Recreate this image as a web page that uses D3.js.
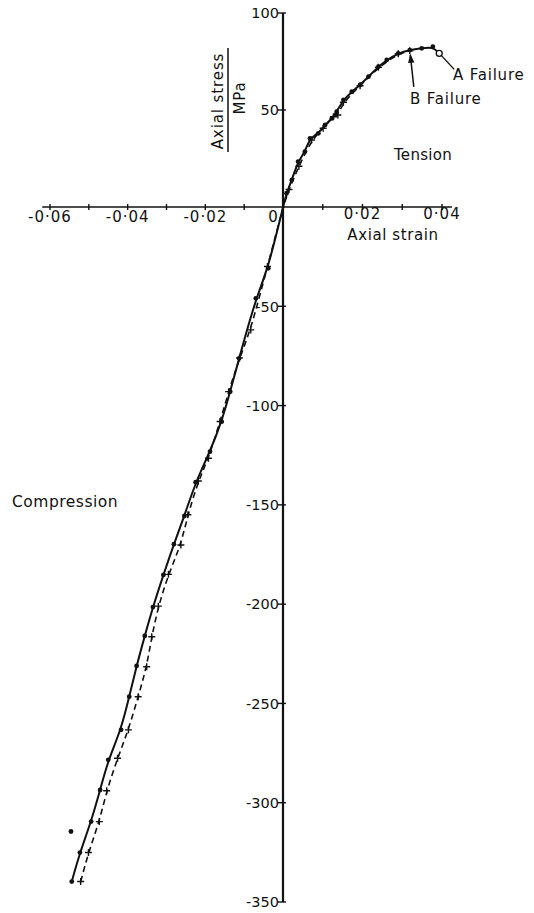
<!DOCTYPE html>
<html>
<head>
<meta charset="utf-8">
<script src="https://cdn.jsdelivr.net/npm/d3@7"></script>
<style>
  body { margin:0; background:#fff; }
  svg text { font-family:"DejaVu Sans", sans-serif; fill:#111; }
</style>
</head>
<body>
<div id="chart"></div>
<script>
// strain, stress (MPa)
var tensionA = [[0,0],[0.0009,7.1],[0.0022,13.9],[0.0038,23.4],[0.0055,28.5],[0.0068,35.4],[0.0089,38],
  [0.0106,42.3],[0.0123,45.7],[0.0135,49.1],[0.0152,55.2],[0.0173,59.4],[0.0194,62.9],[0.0215,67.2],
  [0.024,72.3],[0.0261,75.8],[0.029,79.2],[0.0319,80.9],[0.0349,81.8],[0.0377,82.6]];
var failureA = [0.0393,79.2];
var tensionB = [[0,0],[0.0015,9],[0.004,21],[0.0072,34.5],[0.0101,40.6],[0.0127,46.5],[0.0138,47.4],
  [0.0152,54],[0.0194,62.5],[0.024,72],[0.029,79],[0.0319,80.5]];
var failureB = [0.0319,80.5];

var compressionA = [[-0.0038,-30.9],[-0.007,-46],[-0.0113,-76.2],[-0.0136,-93],[-0.0158,-108.1],
  [-0.0188,-123.2],[-0.0225,-138.6],[-0.0254,-155.6],[-0.0281,-169.8],[-0.0308,-185.3],[-0.0335,-201.5],
  [-0.0356,-216],[-0.0377,-231.1],[-0.0396,-246.6],[-0.0417,-263.3],[-0.045,-278.4],[-0.0471,-293.6],
  [-0.0494,-309.5],[-0.0523,-325.1],[-0.0544,-339.7]];
var compressionStray = [[-0.0546,-314.5]];
var compressionB = [[-0.004,-30],[-0.0083,-61.9],[-0.0112,-76],[-0.014,-93],[-0.0162,-108],
  [-0.0192,-126.5],[-0.0218,-138],[-0.0245,-155],[-0.0263,-170.2],[-0.0295,-185],[-0.0321,-201],
  [-0.0338,-216.4],[-0.0351,-231.5],[-0.0373,-246.6],[-0.0398,-263.3],[-0.0426,-277.6],[-0.0454,-294],
  [-0.0473,-309.5],[-0.0501,-325.1],[-0.0521,-339.7]];

var xTicks = [-0.06,-0.05,-0.04,-0.03,-0.02,-0.01,0,0.01,0.02,0.03,0.04];
var xTickLabels = {"-0.06":"-0·06","-0.04":"-0·04","-0.02":"-0·02","0.02":"0·02","0.04":"0·04"};
var yTicks = [100,50,0,-50,-100,-150,-200,-250,-300,-350];

var W = 534, H = 913;
var svg = d3.select("#chart").append("svg").attr("width",W).attr("height",H);

// the printed figure is slightly stretched differently on each side of the origin
var x = d3.scaleLinear().domain([-0.06,0,0.04]).range([50,283,442]);
var y = d3.scaleLinear().domain([-350,0,100]).range([902,207,13]);

// axes
svg.append("line").attr("x1",x(-0.062)).attr("x2",x(0.0425)).attr("y1",y(0)).attr("y2",y(0))
  .style("stroke","#111").style("stroke-width","1.6px");
svg.append("line").attr("x1",x(0)).attr("x2",x(0)).attr("y1",y(100)).attr("y2",y(-350))
  .style("stroke","#111").style("stroke-width","2.2px");

svg.selectAll(".xt").data(xTicks).enter().append("line")
  .attr("x1",function(d){ return x(d); }).attr("x2",function(d){ return x(d); })
  .attr("y1",y(0)-3).attr("y2",y(0)+3)
  .style("stroke","#111").style("stroke-width","1.4px");

svg.selectAll(".xl").data(xTicks.filter(function(d){ return xTickLabels[String(d)]; })).enter().append("text")
  .attr("x",function(d){ return x(d); }).attr("y",function(d){ return d>0 ? 219 : 222; })
  .attr("text-anchor","middle").style("font-size","15px").style("letter-spacing","1px")
  .text(function(d){ return xTickLabels[String(d)]; });
svg.append("text").attr("x",x(0)-10).attr("y",222).attr("text-anchor","middle")
  .style("font-size","15px").text("0");

svg.selectAll(".yt").data(yTicks.filter(function(d){ return d!==0; })).enter().append("line")
  .attr("x1",x(0)-5).attr("x2",x(0)+3)
  .attr("y1",function(d){ return y(d); }).attr("y2",function(d){ return y(d); })
  .style("stroke","#111").style("stroke-width","1.4px");

svg.selectAll(".yl").data(yTicks.filter(function(d){ return d!==0; })).enter().append("text")
  .attr("x",x(0)-4).attr("y",function(d){ return y(d); }).attr("dy","0.36em")
  .attr("text-anchor","end").style("font-size","14.5px")
  .text(function(d){ return d; });

// curves
var line = d3.line().x(function(d){ return x(d[0]); }).y(function(d){ return y(d[1]); })
  .curve(d3.curveBasis);

var seriesA = compressionA.slice().reverse().concat(tensionA).concat([failureA]);
var seriesB = compressionB.slice().reverse().concat(tensionB);

svg.append("path").attr("d",line(seriesB))
  .style("fill","none").style("stroke","#111").style("stroke-width","1.6px")
  .style("stroke-dasharray","6,4");
svg.append("path").attr("d",line(seriesA))
  .style("fill","none").style("stroke","#111").style("stroke-width","2px");

// markers
svg.selectAll(".pa").data(compressionA.concat(tensionA.slice(1)).concat(compressionStray)).enter().append("circle")
  .attr("cx",function(d){ return x(d[0]); }).attr("cy",function(d){ return y(d[1]); })
  .attr("r",2.4).style("fill","#111");

svg.selectAll(".pb").data(compressionB.concat(tensionB.slice(1))).enter().append("path")
  .attr("transform",function(d){ return "translate("+x(d[0])+","+y(d[1])+")"; })
  .attr("d","M-3.5,0H3.5M0,-3.5V3.5")
  .style("stroke","#111").style("stroke-width","1.4px");

svg.append("circle").attr("cx",x(failureA[0])).attr("cy",y(failureA[1])).attr("r",3)
  .style("fill","#fff").style("stroke","#111").style("stroke-width","1.3px");

// failure annotations
svg.append("line").attr("x1",x(failureA[0])+2).attr("y1",y(failureA[1])+2)
  .attr("x2",x(failureA[0])+15).attr("y2",y(failureA[1])+16)
  .style("stroke","#111").style("stroke-width","1.4px");
svg.append("text").attr("x",453).attr("y",80).style("font-size","15px").style("letter-spacing","0.8px")
  .text("A Failure");

svg.append("line").attr("x1",x(failureB[0])+4).attr("y1",y(failureB[1])+36)
  .attr("x2",x(failureB[0])+0.5).attr("y2",y(failureB[1])+4)
  .style("stroke","#111").style("stroke-width","1.5px");
svg.append("path")
  .attr("transform","translate("+(x(failureB[0])+0.5)+","+(y(failureB[1])+3)+") rotate(-6)")
  .attr("d","M0,0L-3.2,9L3.2,9Z").style("fill","#111");
svg.append("text").attr("x",410).attr("y",104).style("font-size","15px").style("letter-spacing","0.8px")
  .text("B Failure");

// region labels
svg.append("text").attr("x",423).attr("y",160).attr("text-anchor","middle")
  .style("font-size","15px").style("letter-spacing","0.3px").text("Tension");
svg.append("text").attr("x",12).attr("y",507)
  .style("font-size","15.5px").style("letter-spacing","0.5px").text("Compression");

// axis titles
svg.append("text").attr("x",393).attr("y",240).attr("text-anchor","middle")
  .style("font-size","15px").style("letter-spacing","0.6px").text("Axial strain");
svg.append("text").attr("transform","translate(223,101) rotate(-90)").attr("text-anchor","middle")
  .style("font-size","15px").style("letter-spacing","0.9px").text("Axial stress");
svg.append("line").attr("x1",228).attr("x2",228).attr("y1",48).attr("y2",152)
  .style("stroke","#111").style("stroke-width","1.5px");
svg.append("text").attr("transform","translate(245,98) rotate(-90)").attr("text-anchor","middle")
  .style("font-size","15px").style("letter-spacing","0.8px").text("MPa");
</script>
</body>
</html>
